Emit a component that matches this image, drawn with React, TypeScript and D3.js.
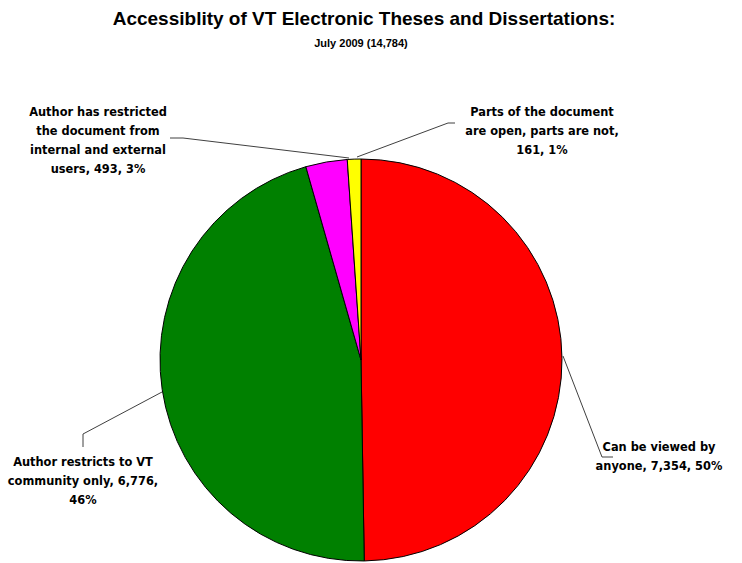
import React from "react";
import * as d3 from "d3";

const categories = [
  "Can be viewed by anyone",
  "Author restricts to VT community only",
  "Author has restricted the document from internal and external users",
  "Parts of the document are open, parts are not",
];
const values = [7354, 6776, 493, 161];
const percents = ["50%", "46%", "3%", "1%"];
const colors = ["#FF0000", "#008000", "#FF00FF", "#FFFF00"];
const labelLines = [
  ["Can be viewed by", "anyone, 7,354, 50%"],
  ["Author restricts to VT", "community only, 6,776,", "46%"],
  ["Author has restricted", "the document from", "internal and external", "users, 493, 3%"],
  ["Parts of the document", "are open, parts are not,", "161, 1%"],
];
const title = "Accessiblity of VT Electronic Theses and Dissertations:";
const subtitle = "July 2009 (14,784)";

const W = 742;
const H = 563;
const cx = 361;
const cy = 360;
const R = 201;

// label layout: text centre x, first baseline y, leader polyline
const labelLayout = [
  { x: 659, y: 451, leader: [[563, 356], [602, 457], [613, 457]] },
  { x: 83, y: 466, leader: [[162, 392], [83, 434], [83, 447]] },
  { x: 98, y: 116, leader: [[349, 158], [183, 138], [170, 138]] },
  { x: 542, y: 116, leader: [[357, 157], [448, 123], [455, 123]] },
];

export default function App() {
  const pie = d3.pie<number>().sort(null).startAngle(0).endAngle(2 * Math.PI);
  const arcs = pie(values);
  const arc = d3.arc<d3.PieArcDatum<number>>().innerRadius(0).outerRadius(R);
  const line = d3.line();
  const fontLabel = "'DejaVu Sans', Verdana, sans-serif";
  return (
    <svg
      width={W}
      height={H}
      style={{ position: "absolute", left: 0, top: 0, background: "#fff" }}
    >
      <rect width={W} height={H} fill="#fff" />
      <text
        x={364}
        y={25}
        textAnchor="middle"
        fontFamily="'Liberation Sans', Arial, sans-serif"
        fontWeight="bold"
        fontSize={19}
      >
        {title}
      </text>
      <text
        x={361}
        y={47}
        textAnchor="middle"
        fontFamily="'Liberation Sans', Arial, sans-serif"
        fontWeight="bold"
        fontSize={11}
      >
        {subtitle}
      </text>
      <g transform={`translate(${cx},${cy})`}>
        {arcs.map((a, i) => (
          <path
            key={categories[i]}
            d={arc(a) || ""}
            fill={colors[i]}
            stroke="#000"
            strokeWidth={1}
          />
        ))}
      </g>
      {labelLayout.map((l, i) => (
        <g key={i}>
          <path
            d={line(l.leader as [number, number][]) || ""}
            fill="none"
            stroke="#404040"
            strokeWidth={1}
          />
          <text
            textAnchor="middle"
            fontFamily={fontLabel}
            fontWeight="bold"
            fontSize={11.4}
            fill="#000"
          >
            {labelLines[i].map((t, j) => (
              <tspan key={j} x={l.x} y={l.y + j * 19}>
                {t}
              </tspan>
            ))}
          </text>
        </g>
      ))}
    </svg>
  );
}
